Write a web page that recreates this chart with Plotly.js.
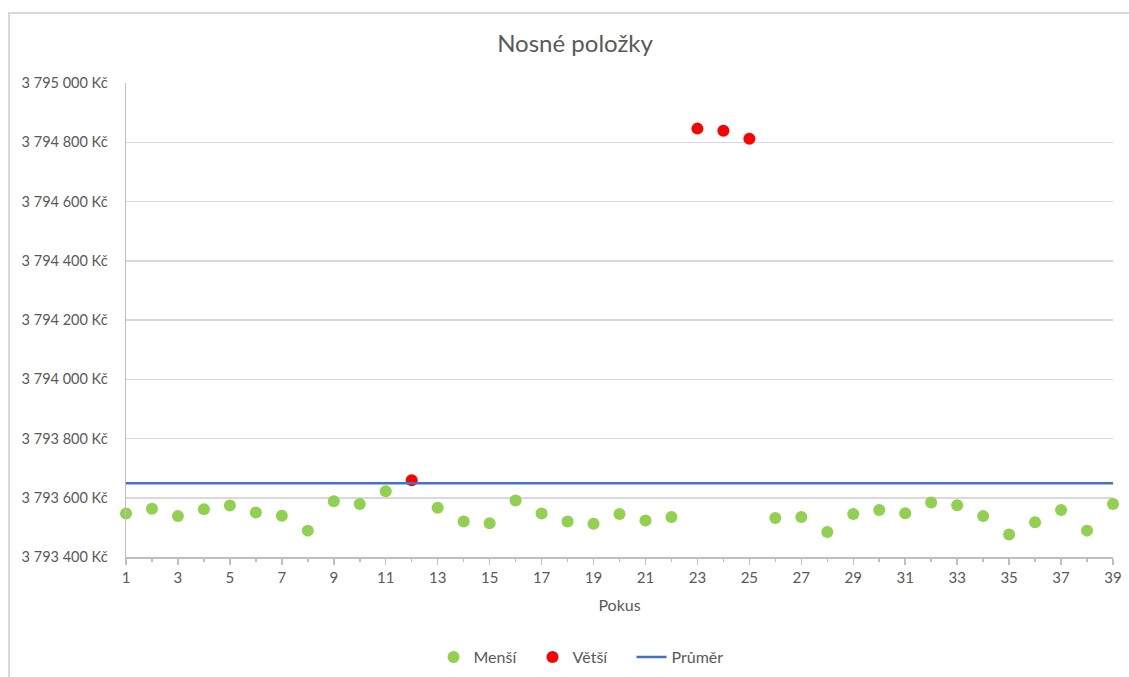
<!DOCTYPE html>
<html>
<head>
<meta charset="utf-8">
<script src="https://cdn.plot.ly/plotly-3.0.1.min.js"></script>
<style>
  html, body { margin: 0; padding: 0; background: #ffffff; overflow: hidden; }
  #frame { position: absolute; left: 8px; top: 12px; width: 1121px; height: 665px; z-index: 5;
           pointer-events: none;
           border-left: 2px solid #d9d9d9; border-top: 2px solid #d9d9d9; box-sizing: border-box; }
  #chart { position: absolute; left: 0; top: 0; width: 1129px; height: 677px; }
</style>
</head>
<body>
<div id="frame"></div>
<div id="chart"></div>
<script>
// Pokusy (trials) 1..39 and the total for each run
const smallerTrials = [1, 2, 3, 4, 5, 6, 7, 8, 9, 10, 11, 13, 14, 15, 16, 17, 18, 19, 20, 21, 22,
                       26, 27, 28, 29, 30, 31, 32, 33, 34, 35, 36, 37, 38, 39];
const smallerValues = [3793547, 3793563, 3793538, 3793561, 3793574, 3793550, 3793539, 3793489,
                       3793588, 3793579, 3793622, 3793566, 3793520, 3793514, 3793591, 3793547,
                       3793520, 3793512, 3793545, 3793523, 3793535, 3793532, 3793535, 3793484,
                       3793545, 3793559, 3793548, 3793584, 3793575, 3793538, 3793476, 3793517,
                       3793559, 3793489, 3793579];
const largerTrials = [12, 23, 24, 25];
const largerValues = [3793659, 3794846, 3794839, 3794812];
const meanTrials = [1, 39];
const meanValues = [3793649, 3793649];

const textColor = '#595959';
const font = 'Lato, "Open Sans", sans-serif';

const traces = [
  { x: smallerTrials, y: smallerValues, name: 'Menší', type: 'scatter', mode: 'markers',
    marker: { color: '#92d050', size: 12 }, cliponaxis: false },
  { x: largerTrials, y: largerValues, name: 'Větší', type: 'scatter', mode: 'markers',
    marker: { color: '#ff0000', size: 12 }, cliponaxis: false },
  { x: meanTrials, y: meanValues, name: 'Průměr', type: 'scatter', mode: 'lines',
    line: { color: '#4472c4', width: 2.5 } }
];

const layout = {
  width: 1129, height: 677,
  paper_bgcolor: 'rgba(0,0,0,0)', plot_bgcolor: '#ffffff',
  margin: { l: 126, r: 16, t: 83, b: 120 },
  separators: ', ',
  font: { family: font, color: textColor, size: 14 },
  title: { text: 'Nosné položky', x: 575 / 1129, xanchor: 'center', xref: 'container',
           y: 1 - 44 / 677, yanchor: 'middle', yref: 'container',
           font: { family: font, size: 24, color: textColor } },
  xaxis: {
    range: [1, 39], tickmode: 'linear', tick0: 1, dtick: 2,
    showgrid: false, zeroline: false, automargin: false,
    showline: true, linecolor: '#bfbfbf', linewidth: 1.5,
    ticks: 'outside', ticklen: 6, tickcolor: '#bfbfbf', tickwidth: 1.5,
    minor: { dtick: 1, tick0: 1, ticks: 'outside', ticklen: 3, tickcolor: '#bfbfbf', showgrid: false },
    tickfont: { size: 15, color: textColor },
    title: { text: 'Pokus', font: { size: 16, color: textColor }, standoff: 15 },
    fixedrange: true
  },
  yaxis: {
    range: [3793400, 3795000], tickmode: 'linear', tick0: 3793400, dtick: 200,
    tickformat: ',d', ticksuffix: ' Kč', automargin: false,
    showgrid: true, gridcolor: '#d9d9d9', gridwidth: 1.5, zeroline: false,
    showline: true, linecolor: '#bfbfbf', linewidth: 1.5,
    ticks: '', ticklabelstandoff: 14,
    tickfont: { size: 14.5, color: textColor },
    fixedrange: true
  },
  legend: {
    orientation: 'h', x: 582 / 1129, xanchor: 'center', xref: 'container',
    y: 1 - 657 / 677, yanchor: 'middle', yref: 'container',
    font: { size: 16, color: textColor }, bgcolor: 'rgba(0,0,0,0)',
    traceorder: 'normal', entrywidth: 54, entrywidthmode: 'pixels', itemwidth: 30
  },
  showlegend: true
};

Plotly.newPlot('chart', traces, layout, { displayModeBar: false, staticPlot: true });
</script>
</body>
</html>
